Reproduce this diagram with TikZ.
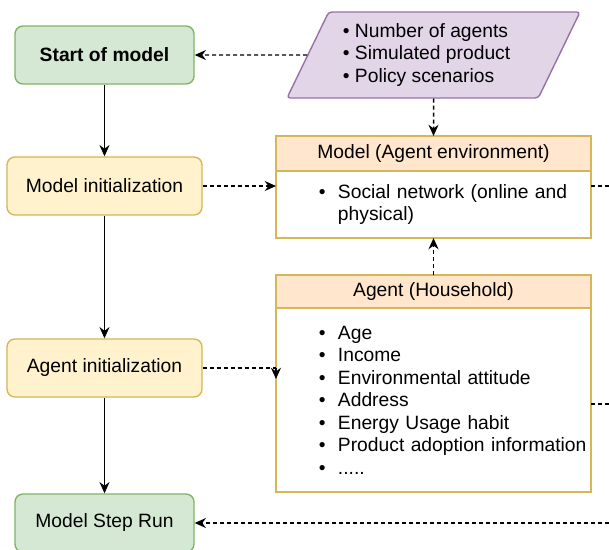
\documentclass[tikz,border=0pt]{standalone}
\usepackage{fontspec}
\setmainfont{Liberation Sans}
\usetikzlibrary{positioning,arrows.meta,shapes.geometric}
\definecolor{greenfill}{HTML}{D5E8D4}
\definecolor{greenline}{HTML}{82B366}
\definecolor{yellowfill}{HTML}{FFF2CC}
\definecolor{yellowline}{HTML}{D6B656}
\definecolor{purplefill}{HTML}{E1D5E7}
\definecolor{purpleline}{HTML}{9673A6}
\definecolor{peachfill}{HTML}{FFE6CC}
\newcommand{\txtsize}{\fontsize{13.7}{16}\selectfont}
\newcommand{\itm}[1]{\hspace*{1.025cm}\makebox[0.475cm][l]{\textbullet}#1}
\newcommand{\contline}[1]{\hspace*{1.5cm}#1}
\tikzset{
	flowbox/.style={rounded corners=0.2cm, line width=1pt, minimum height=1.45cm, font=\txtsize},
	greenbox/.style={flowbox, draw=greenline, fill=greenfill, minimum width=4.475cm},
	yellowbox/.style={flowbox, draw=yellowline, fill=yellowfill, minimum width=4.875cm},
	inputbox/.style={trapezium, trapezium left angle=60, trapezium right angle=120, trapezium stretches body=true, rounded corners=0.08cm, draw=purpleline, fill=purplefill, line width=1pt, minimum width=7.325cm, minimum height=2.15cm, align=left, font=\txtsize},
	headbox/.style={draw=yellowline, fill=peachfill, line width=1pt, minimum width=7.875cm, outer sep=0pt, font=\txtsize},
	bodybox/.style={draw=yellowline, fill=white, line width=1pt, text width=7.775cm, inner xsep=0.05cm, align=left, outer sep=0pt, font=\txtsize},
	tipline/.style={-{Stealth[length=0.28cm,width=0.25cm]}, line width=1.05pt},
	dashline/.style={tipline, dash pattern=on 0.1cm off 0.075cm}
}
\begin{document}
\begin{tikzpicture}[x=0.025cm,y=-0.025cm]
	\useasboundingbox (0,0) rectangle (609,549);
	\node[greenbox] (start) at (104.5,55) {\bfseries Start of model};
	\node[yellowbox] (minit) at (104.5,186) {Model initialization};
	\node[yellowbox] (ainit) at (104.5,368) {Agent initialization};
	\node[greenbox] (steprun) at (104.5,523) {Model Step Run};
	\node[inputbox] (param) at (433.5,55) {\textbullet\ Number of agents\hspace*{0.4cm}\\\textbullet\ Simulated product\\\textbullet\ Policy scenarios};
	\node[headbox, minimum height=0.875cm] (mhead) at (433.5,153.5) {Model (Agent environment)};
	\node[bodybox, minimum height=1.675cm, below=0pt of mhead] (mbody) {\itm{Social network (online and}\\\contline{physical)}};
	\node[headbox, minimum height=0.825cm] (ahead) at (433.5,291.5) {Agent (Household)};
	\node[bodybox, minimum height=4.6cm, below=0pt of ahead] (abody) {\itm{Age}\\\itm{Income}\\\itm{Environmental attitude}\\\itm{Address}\\\itm{Energy Usage habit}\\\itm{Product adoption information}\\\itm{.....}};
	\coordinate (mout) at (609,186);
	\coordinate (aout) at (609,404);
	\coordinate (rin) at (609,523);
	\draw[tipline] (start) -- (minit);
	\draw[tipline] (minit) -- (ainit);
	\draw[tipline] (ainit) -- (steprun);
	\draw[dashline] (param.west) -- (start.east);
	\draw[dashline] (param.south) -- (mhead.north);
	\draw[dashline] (ahead.north) -- (mbody.south);
	\draw[dashline] (minit.east) -- (minit.east -| mbody.west);
	\draw[dashline,-] (ainit.east) -- (ainit.east -| abody.west);
	\draw[tipline] (ainit.east -| abody.west) -- ++(0,11);
	\draw[dashline,-] (mout -| mbody.east) -- (mout);
	\draw[dashline,-] (aout -| abody.east) -- (aout);
	\draw[dashline] (rin) -- (steprun.east);
\end{tikzpicture}
\end{document}
